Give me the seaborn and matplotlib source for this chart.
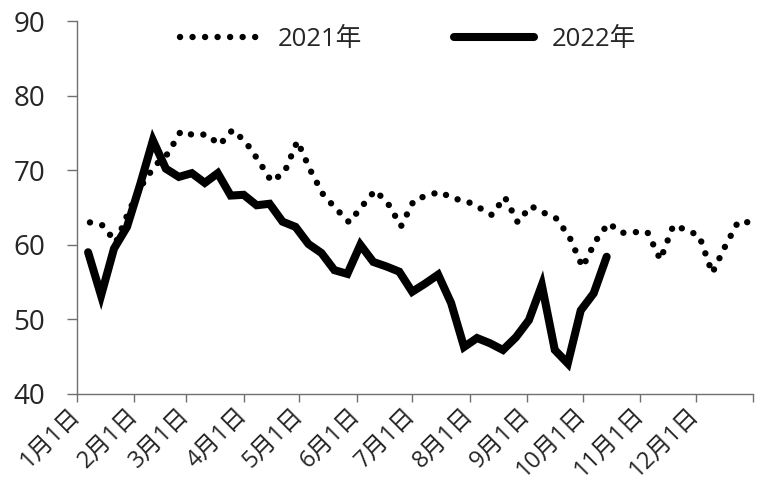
import pandas as pd
import matplotlib
matplotlib.use('Agg')
import matplotlib.pyplot as plt
import seaborn as sns

# weekly values (2021 shown on the same Jan-Dec axis)
dates_2021 = pd.date_range('2022-01-08', periods=52, freq='7D')
vals_2021 = [63.0, 62.6, 60.3, 64.5, 68.0, 70.6, 72.2, 75.2, 74.7, 74.8,
             73.4, 75.4, 73.8, 71.3, 68.5, 69.7, 73.9, 70.0, 66.7, 64.8,
             63.0, 65.2, 67.3, 65.5, 62.5, 66.0, 66.6, 67.1, 66.2, 65.9,
             65.0, 64.0, 66.4, 63.0, 65.2, 64.3, 63.5, 61.0, 57.0, 60.5,
             62.9, 61.6, 61.7, 61.7, 58.0, 62.6, 62.0, 61.2, 56.2, 59.8,
             63.1, 63.0]

dates_2022 = pd.date_range('2022-01-07', periods=41, freq='7D')
vals_2022 = [59.0, 53.2, 59.5, 62.4, 68.0, 74.0, 70.2, 69.1, 69.6, 68.3,
             69.6, 66.6, 66.7, 65.3, 65.5, 63.1, 62.4, 60.1, 58.9, 56.6,
             56.1, 60.0, 57.7, 57.1, 56.4, 53.7, 54.8, 56.0, 52.2, 46.3,
             47.5, 46.8, 45.9, 47.6, 49.9, 54.6, 45.9, 44.1, 51.2, 53.5,
             58.4]

month_ticks = pd.date_range('2022-01-01', periods=13, freq='MS')
month_labels = [f'{m}月1日' for m in range(1, 13)] + ['']

sns.set_style('white')
plt.rcParams['font.family'] = ['Open Sans', 'Noto Sans CJK SC', 'DejaVu Sans']

fig = plt.figure(figsize=(7.66, 5.04), dpi=100)
ax = fig.add_axes([0.1005, 0.2183, 0.8825, 0.74])

df21 = pd.DataFrame({'date': dates_2021, 'value': vals_2021})
df22 = pd.DataFrame({'date': dates_2022, 'value': vals_2022})

sns.lineplot(data=df21, x='date', y='value', ax=ax, color='black',
             linewidth=4.6, linestyle=(0, (0.01, 1.95)),
             dash_capstyle='round', label='2021年')
sns.lineplot(data=df22, x='date', y='value', ax=ax, color='black',
             linewidth=5.8, solid_capstyle='round', solid_joinstyle='miter',
             label='2022年')

ax.set_xlim(pd.Timestamp('2022-01-01'), pd.Timestamp('2023-01-01'))
ax.set_ylim(40, 90)
ax.set_yticks(range(40, 91, 10))
ax.set_xticks(month_ticks)
ax.set_xticklabels(month_labels)
ax.set_xlabel('')
ax.set_ylabel('')

for side in ['top', 'right']:
    ax.spines[side].set_visible(False)
for side in ['left', 'bottom']:
    ax.spines[side].set_color('#707070')
    ax.spines[side].set_linewidth(1)

ax.tick_params(axis='y', direction='out', length=7, width=1, color='#707070',
               labelsize=20, pad=16, left=True)
ax.tick_params(axis='x', direction='out', length=5.5, width=1, color='#707070',
               labelsize=17, pad=7, bottom=True)
for lab in ax.get_xticklabels():
    lab.set_rotation(45)
    lab.set_ha('right')
    lab.set_va('center')
    lab.set_rotation_mode('anchor')

ax.legend(loc='upper center', bbox_to_anchor=(0.49, 1.045), ncol=2,
          frameon=False, fontsize=18.5, handlelength=3.1, columnspacing=3.6,
          handletextpad=0.7)

fig.savefig('out.png', dpi=100)
